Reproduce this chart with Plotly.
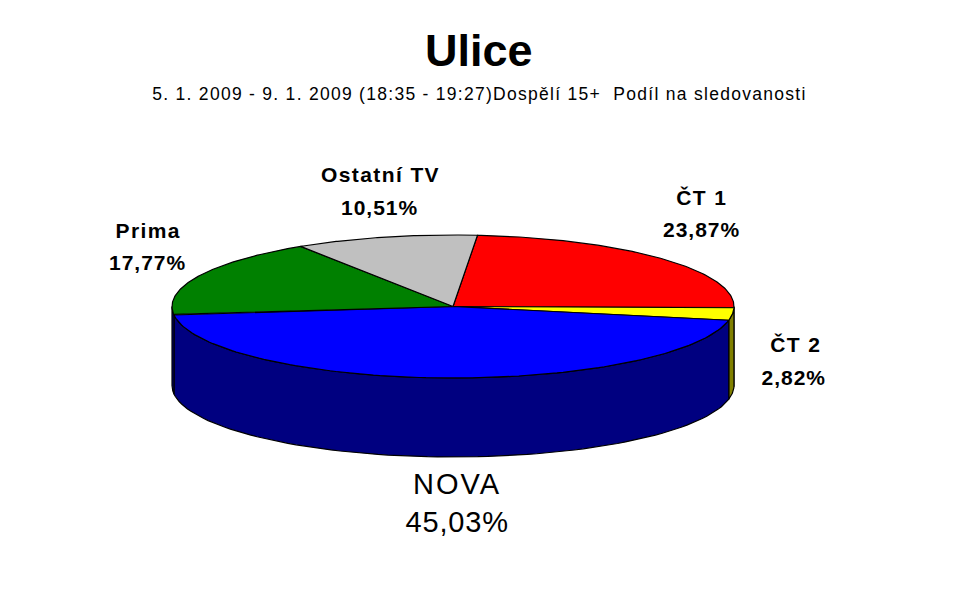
import json
import numpy as np
import plotly.graph_objects as go

# Data
categories = ["ČT 1", "ČT 2", "NOVA", "Prima", "Ostatní TV"]
shares = [23.87, 2.82, 45.03, 17.77, 10.51]
top_colors = ["#ff0000", "#ffff00", "#0000ff", "#008000", "#c0c0c0"]
side_colors = ["#800000", "#808000", "#000080", "#000080", "#606060"]
title_text = "Ulice"
subtitle_text = "5. 1. 2009 - 9. 1. 2009 (18:35 - 19:27)Dospělí 15+  Podíl na sledovanosti"

# Pie geometry (in page pixels)
CX, CY, RX, RY, DEPTH = 453, 306.5, 281, 71.5, 79
START = 5.0


def pt(a, dy=0.0):
    a = np.radians(a)
    return CX + RX * np.sin(a), CY - RY * np.cos(a) + dy


fig = go.Figure()
edges = np.cumsum([0] + shares) / sum(shares) * 360 + START

# Side walls (only the front half of the rim is visible)
for i in range(len(shares)):
    a0, a1 = max(edges[i], 90), min(edges[i + 1], 270)
    if a1 <= a0:
        continue
    t = np.linspace(a0, a1, 80)
    xt, yt = pt(t)
    xb, yb = pt(t[::-1], DEPTH)
    fig.add_trace(go.Scatter(
        x=np.r_[xt, xb, xt[0]], y=np.r_[yt, yb, yt[0]], mode="lines", fill="toself",
        fillcolor=side_colors[i], line=dict(color="#000000", width=1.2),
        hoverinfo="skip", showlegend=False))

# Top faces
for i in range(len(shares)):
    t = np.linspace(edges[i], edges[i + 1], 120)
    xt, yt = pt(t)
    fig.add_trace(go.Scatter(
        x=np.r_[CX, xt, CX], y=np.r_[CY, yt, CY], mode="lines", fill="toself",
        fillcolor=top_colors[i], line=dict(color="#000000", width=1.2),
        hoverinfo="skip", showlegend=False, name=categories[i]))

# Labels: centre of name line, centre of value line, size, weight
label_pos = {
    "ČT 1": (702, 197, 702, 229, 21, "bold"),
    "ČT 2": (796, 344, 794, 377, 21, "bold"),
    "NOVA": (457, 484, 457, 522, 29, "normal"),
    "Prima": (148, 230, 148, 262, 21, "bold"),
    "Ostatní TV": (380, 174, 380, 207, 21, "bold"),
}
annotations = []
spacing = {subtitle_text: 1.28}
for name, val in zip(categories, shares):
    x1, y1, x2, y2, size, weight = label_pos[name]
    pct = f"{val:.2f}".replace(".", ",") + "%"
    spacing[name] = 1.4 if weight == "bold" else 2.0
    spacing[pct] = 1.0 if weight == "bold" else 0.8
    for txt, x, y in ((name, x1, y1), (pct, x2, y2)):
        annotations.append(dict(x=x, y=y, xref="x", yref="y", text=txt, showarrow=False,
                                xanchor="center", yanchor="middle",
                                font=dict(family="Liberation Sans", size=size, color="#000000", weight=weight)))
annotations.append(dict(x=479, y=50, xref="x", yref="y", text=title_text, showarrow=False,
                        xanchor="center", yanchor="middle",
                        font=dict(family="Liberation Sans", size=45, color="#000000", weight="bold")))
annotations.append(dict(x=479.5, y=94, xref="x", yref="y", text=subtitle_text, showarrow=False,
                        xanchor="center", yanchor="middle",
                        font=dict(family="Liberation Sans", size=17.5, color="#000000")))

fig.update_layout(
    width=959, height=613, margin=dict(l=0, r=0, t=0, b=0),
    paper_bgcolor="#ffffff", plot_bgcolor="#ffffff", showlegend=False,
    xaxis=dict(range=[0, 959], visible=False, fixedrange=True),
    yaxis=dict(range=[613, 0], visible=False, fixedrange=True),
    annotations=annotations,
)
post = (
    "document.body.style.margin='0';"
    "var sp=" + json.dumps(spacing, ensure_ascii=False) + ";"
    "document.querySelectorAll('.annotation-text').forEach(function(e){"
    "var s=sp[e.textContent.replace(/\\u00a0/g,' ')];if(s){e.style.letterSpacing=s+'px';}});"
)
fig.write_html("out.html", post_script=post, config={"displayModeBar": False})
